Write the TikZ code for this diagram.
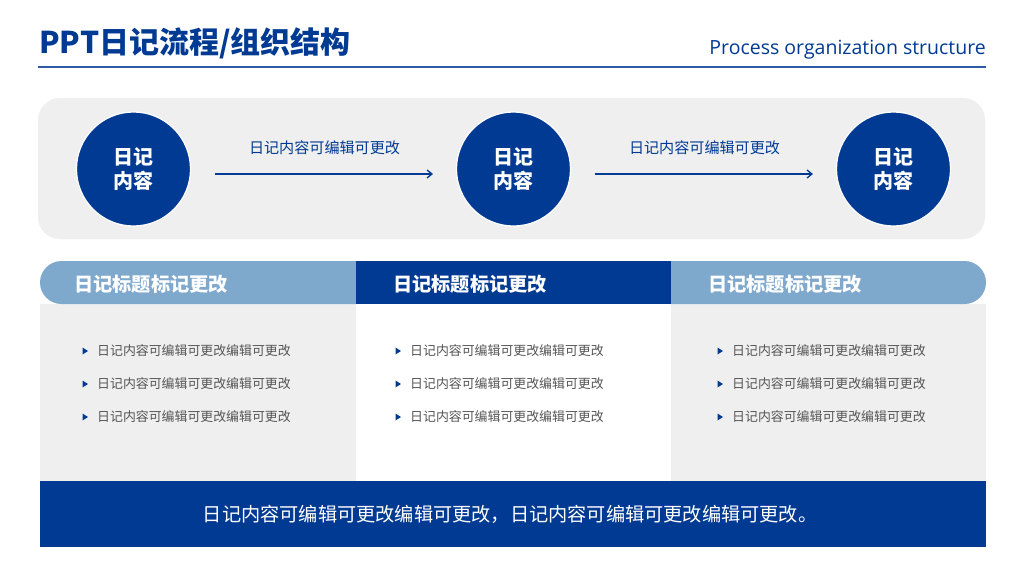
\documentclass[tikz,border=0pt]{standalone}
\usepackage{fontspec}
\setmainfont{Noto Sans CJK SC}
\newfontfamily\cjk{Noto Sans CJK SC}
\newfontfamily\latinf{Open Sans}
\usetikzlibrary{arrows.meta}
\definecolor{dblue}{HTML}{003A92}
\definecolor{lblue}{HTML}{7FA8CD}
\definecolor{lgray}{HTML}{EFEFEF}
\definecolor{tgray}{HTML}{555555}
\definecolor{lineblue}{HTML}{2F5AA8}
\tikzset{
  circ/.style={circle,fill=dblue,draw=white,line width=1.2pt,minimum size=114pt,inner sep=0pt,
    text=white,font=\cjk\bfseries\fontsize{20}{24}\selectfont,align=center},
  flow/.style={-{Straight Barb[length=5pt,width=8pt]},draw=dblue,line width=1.3pt},
  flowlbl/.style={text=dblue,font=\cjk\fontsize{15.1}{16}\selectfont},
  hdr/.style={text=white,font=\cjk\bfseries\fontsize{19.2}{20}\selectfont,anchor=west,inner sep=0pt},
  bul/.style={text=tgray,font=\cjk\fontsize{12.9}{14}\selectfont,anchor=west,inner sep=0pt},
  tri/.style={fill=dblue,draw=none},
}
\begin{document}
\begin{tikzpicture}[x=1pt,y=-1pt]
\useasboundingbox (0,0) rectangle (1024,576);
\fill[white] (0,0) rectangle (1024,576);
% title
\node[anchor=west,text=dblue,font=\cjk\bfseries\fontsize{30}{32}\selectfont,inner sep=0pt] (title) at (39,43) {PPT日记流程/组织结构};
\node[anchor=east,text=dblue,font=\latinf\fontsize{19.5}{22}\selectfont,inner sep=0pt] (sub) at (986,50) {Process organization structure};
\draw[lineblue,line width=2pt] (38,67) -- (986,67);
% top gray band
\fill[lgray,rounded corners=22pt] (38,98) rectangle (985,239);
\node[circ] (c1) at (133.5,169) {日记\\内容};
\node[circ] (c2) at (513.5,169) {日记\\内容};
\node[circ] (c3) at (893.5,169) {日记\\内容};
\coordinate (a1s) at (215,174); \coordinate (a1e) at (433,174);
\coordinate (a2s) at (595,174); \coordinate (a2e) at (813,174);
\draw[flow] (a1s) -- (a1e);
\draw[flow] (a2s) -- (a2e);
\node[flowlbl] (l1) at (324.5,148) {日记内容可编辑可更改};
\node[flowlbl] (l2) at (704.5,148) {日记内容可编辑可更改};
% columns
\fill[lgray] (40,304) rectangle (356,481);
\fill[white] (356,304) rectangle (671,481);
\fill[lgray] (671,304) rectangle (986,481);
\fill[lblue] (40,282.5) arc[start angle=180,end angle=90,radius=21.5pt] -- (356,261) -- (356,304) -- (61.5,304) arc[start angle=270,end angle=180,radius=21.5pt] -- cycle;
\fill[dblue] (356,261) rectangle (671,304);
\fill[lblue] (671,261) -- (964.5,261) arc[start angle=90,end angle=-90,radius=21.5pt] -- (671,304) -- cycle;
\node[hdr] (h1) at (74,284) {日记标题标记更改};
\node[hdr] (h2) at (393,284) {日记标题标记更改};
\node[hdr] (h3) at (708,284) {日记标题标记更改};
% bullets
\foreach \cx/\nm in {85/a,398/b,720/c}{
  \foreach \yy/\k in {351/1,384/2,417/3}{
    \fill[tri] (\cx-2.5,\yy-3.5) -- (\cx+3,\yy) -- (\cx-2.5,\yy+3.5) -- cycle;
    \node[bul] (t\nm\k) at (\cx+12,\yy) {日记内容可编辑可更改编辑可更改};
  }
}
% bottom bar
\fill[dblue] (40,481) rectangle (986,547);
\node[text=white,font=\cjk\fontsize{19.2}{20}\selectfont] (bottom) at (510,514) {日记内容可编辑可更改编辑可更改，日记内容可编辑可更改编辑可更改。};
\end{tikzpicture}
\end{document}
